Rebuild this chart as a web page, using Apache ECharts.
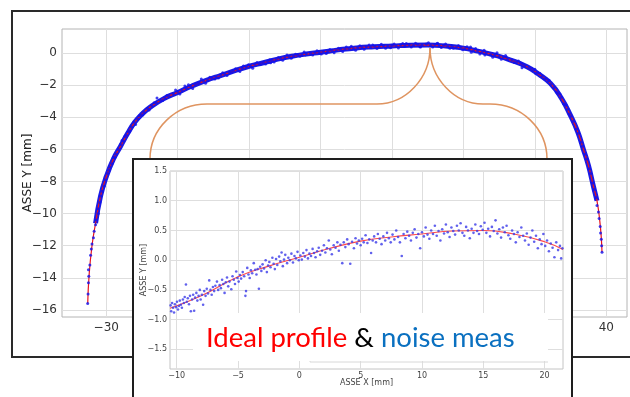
<!DOCTYPE html>
<html><head><meta charset="utf-8">
<script src="https://cdn.jsdelivr.net/npm/echarts@6/dist/echarts.min.js"></script>
<style>html,body{margin:0;padding:0;background:#fff}#c{width:630px;height:397px}</style>
</head><body><div id="c"></div>
<script>
// ---- tick values
const mainXTicks = [-30, -20, -10, 0, 10, 20, 30, 40];
const mainYTicks = [0, -2, -4, -6, -8, -10, -12, -14, -16];
const insetXTicks = [-10, -5, 0, 5, 10, 15, 20];
const insetYTicks = [1.5, 1.0, 0.5, 0.0, -0.5, -1.0, -1.5];
// ---- main chart: ideal profile (x mm, y mm)
const mainProfile = [[-32.6,-15.6],[-32.4,-13.8],[-32.0,-12.0],[-31.5,-10.6],[-30.8,-8.9],[-30.0,-7.7],[-29.0,-6.6],[-28.0,-5.8],[-27.0,-5.0],[-26.0,-4.3],[-25.0,-3.8],[-23.8,-3.35],[-22.0,-2.85],[-20.0,-2.45],[-18.0,-2.05],[-16.0,-1.7],[-14.0,-1.4],[-12.0,-1.1],[-10.0,-0.82],[-8.0,-0.6],[-6.0,-0.38],[-4.0,-0.2],[-2.0,-0.06],[0,0.05],[2.5,0.2],[5,0.32],[7.5,0.39],[10,0.44],[12.5,0.49],[15,0.5],[17.5,0.44],[20,0.31],[22,0.12],[24.3,-0.12],[26.5,-0.42],[28.9,-0.85],[30.5,-1.3],[32.2,-1.9],[33.7,-2.8],[35.0,-3.9],[36.0,-4.9],[36.8,-6.0],[37.5,-7.0],[38.2,-8.3],[38.7,-9.2],[39.1,-10.5],[39.3,-11.5],[39.4,-12.4]];
// ---- main chart: noisy measurement points
const mainNoise = [[-32.6,-15.6],[-32.55,-15.0],[-32.5,-14.3],[-32.45,-13.9],[-32.5,-13.5],[-32.3,-13.2],[-32.2,-12.6],[-32.1,-12.2],[-32.0,-11.9],[-31.8,-11.5],[-31.7,-11.1],[-31.5,-10.7],[-31.4,-10.4],[-31.1,-10.0],[-31.2,-9.7],[-30.9,-9.3],[-30.8,-8.9],[-30.6,-8.6],[-30.3,-8.3],[-30.1,-7.9],[-29.8,-7.5],[-29.6,-7.3],[-29.2,-6.9],[-29.0,-6.5],[-28.6,-6.3],[-28.3,-6.0],[-28.0,-5.7],[-27.6,-5.5],[-27.2,-5.1],[-26.9,-4.9],[-26.5,-4.6],[-26.1,-4.3],[-25.6,-4.1],[-25.2,-3.85],[-24.7,-3.7],[-24.2,-3.45],[-23.6,-3.3],[-23.0,-3.1],[-22.4,-2.95],[-21.8,-2.8],[-21.2,-2.7],[-20.6,-2.55],[-20.0,-2.4],[-19.4,-2.35],[-18.8,-2.2],[-18.2,-2.05],[-17.6,-1.95],[-17.0,-1.85],[-16.4,-1.72],[-15.8,-1.7],[-15.2,-1.55],[-14.6,-1.5],[-14.0,-1.35],[-13.4,-1.3],[-12.8,-1.2],[-12.2,-1.1],[-11.6,-1.05],[-11.0,-0.95],[-10.4,-0.85],[-9.8,-0.82],[-9.2,-0.7],[-8.6,-0.68],[-8.0,-0.58],[-7.4,-0.52],[-6.8,-0.45],[-6.2,-0.42],[-5.6,-0.32],[-5.0,-0.3],[-4.4,-0.22],[-3.8,-0.2],[-3.2,-0.12],[-2.6,-0.1],[-2.0,-0.04],[-1.4,-0.02],[-0.8,0.04],[-0.2,0.02],[0.4,0.1],[1.0,0.1],[1.6,0.17],[2.2,0.15],[2.8,0.24],[3.4,0.22],[4.0,0.3],[4.6,0.27],[5.2,0.35],[5.8,0.33],[6.4,0.4],[7.0,0.35],[7.6,0.42],[8.2,0.38],[8.8,0.46],[9.4,0.41],[10.0,0.48],[10.6,0.42],[11.2,0.52],[11.8,0.46],[12.4,0.53],[13.0,0.47],[13.6,0.55],[14.2,0.48],[14.8,0.56],[15.4,0.47],[16.0,0.53],[16.6,0.45],[17.2,0.5],[17.8,0.4],[18.4,0.43],[19.0,0.33],[19.6,0.37],[20.2,0.26],[20.8,0.25],[21.4,0.15],[22.0,0.16],[22.6,0.04],[23.2,0.02],[23.8,-0.1],[24.4,-0.1],[25.0,-0.24],[25.6,-0.25],[26.2,-0.4],[26.8,-0.42],[27.4,-0.58],[28.0,-0.62],[28.6,-0.8],[29.2,-0.88],[29.8,-1.08],[30.4,-1.22],[31.0,-1.45],[31.6,-1.6],[32.2,-1.95],[32.7,-2.15],[33.2,-2.5],[33.7,-2.75],[34.2,-3.2],[34.6,-3.5],[35.0,-3.95],[35.4,-4.25],[35.8,-4.75],[36.1,-5.0],[36.4,-5.55],[36.7,-5.8],[37.0,-6.3],[37.3,-6.6],[37.6,-7.2],[37.8,-7.5],[38.1,-8.1],[38.3,-8.5],[38.6,-9.0],[38.7,-9.5],[38.9,-9.9],[39.0,-10.3],[39.15,-10.8],[39.2,-11.2],[39.3,-11.6],[39.35,-12.0],[39.4,-12.4],
[-22.9,-2.8],[-19.0,-2.05],[-14.8,-1.62],[-10.8,-0.8],[-7.0,-0.6],[-3.5,-0.08],[0.8,-0.03],[3.6,0.38],[6.8,0.5],[9.8,0.33],[12.0,0.6],[14.0,0.38],[16.4,0.62],[18.6,0.3],[21.0,0.38],[23.0,-0.12],[26.0,-0.25],[28.2,-0.92],[30.0,-1.0],[32.0,-1.7],[34.0,-3.15],[-27.8,-5.45],[-25.9,-4.45],[-24.0,-3.55],[-21.5,-2.65],[-17.3,-1.9],[-12.5,-1.2],[-8.3,-0.66],
[-20.3,-2.3],[-19.7,-2.55],[-18.5,-1.98],[-17.9,-2.2],[-16.7,-1.62],[-16.1,-1.88],[-15.5,-1.5],[-14.3,-1.55],[-13.7,-1.22],[-13.1,-1.4],[-11.9,-0.98],[-11.3,-1.15],[-10.1,-0.72],[-9.5,-0.95],[-8.9,-0.58],[-7.7,-0.68],[-7.1,-0.42],[-6.5,-0.55],[-5.9,-0.28],[-5.3,-0.45],[-4.7,-0.12],[-4.1,-0.32],[-2.9,-0.2],[-2.3,0.06],[-1.1,-0.12],[-0.5,0.15],[0.1,-0.06],[1.3,0.22],[1.9,0.02],[2.5,0.3],[3.1,0.1],[4.3,0.42],[4.9,0.18],[5.5,0.45],[6.1,0.24],[7.3,0.5],[7.9,0.28],[8.5,0.55],[9.1,0.3],[10.3,0.56],[10.9,0.32],[11.5,0.6],[12.7,0.38],[13.3,0.62],[13.9,0.4],[15.1,0.64],[15.7,0.38],[16.3,0.6],[16.9,0.35],[17.5,0.56],[18.1,0.3],[19.3,0.47],[19.9,0.2],[20.5,0.4],[21.1,0.05],[21.7,0.28],[22.3,-0.05],[22.9,0.18],[24.1,-0.26],[24.7,0.02],[25.3,-0.38],[25.9,-0.15],[27.1,-0.58],[27.7,-0.5],[28.3,-0.7],[29.5,-0.98],[30.1,-1.25],[30.7,-1.25],[31.3,-1.6],[31.9,-1.75],[33.0,-2.42],[33.5,-2.55],[34.4,-3.25],[34.8,-3.8],
[-29.5,-7.1],[-28.8,-6.5],[-27.4,-5.2],[-26.7,-4.85],[-25.4,-3.9],[-24.9,-3.85],[-23.3,-3.1],[-22.1,-2.95]];
// ---- inset: ideal profile zoom
const insetProfile = [[-10.55,-0.81],[-8,-0.6],[-5,-0.28],[-2.5,-0.1],[0,0.05],[2.5,0.2],[5,0.32],[7.5,0.39],[10,0.44],[12.5,0.49],[15,0.5],[17.5,0.44],[20,0.31],[21.5,0.18]];
// ---- inset: noisy measurement points
const insetNoise = [[-10.5,-0.76],[-10.45,-0.86],[-10.38,-0.72],[-10.3,-0.8],[-10.22,-0.88],[-10.15,-0.74],[-10.05,-0.79],[-9.98,-0.7],[-9.9,-0.83],[-9.82,-0.77],[-9.75,-0.68],[-9.66,-0.75],[-9.58,-0.8],[-9.5,-0.66],[-9.42,-0.72],[-9.35,-0.62],[-9.25,-0.41],[-9.18,-0.7],[-9.1,-0.64],[-9.0,-0.74],[-8.92,-0.6],[-8.85,-0.86],[-8.75,-0.66],[-8.66,-0.58],[-8.58,-0.85],[-8.5,-0.63],[-8.4,-0.55],[-8.32,-0.68],[-8.22,-0.6],[-8.12,-0.5],[-8.05,-0.66],[-7.95,-0.58],[-7.85,-0.75],[-7.76,-0.52],[-7.65,-0.6],[-7.55,-0.48],[-7.45,-0.56],[-7.35,-0.34],[-7.25,-0.5],[-7.15,-0.58],[-7.05,-0.45],[-6.95,-0.52],[-6.85,-0.43],[-6.72,-0.36],[-6.62,-0.5],[-6.5,-0.42],[-6.4,-0.47],[-6.3,-0.33],[-6.2,-0.4],[-6.1,-0.55],[-6.0,-0.37],[-5.9,-0.29],[-5.8,-0.44],[-5.7,-0.36],[-5.55,-0.49],[-5.45,-0.27],[-5.35,-0.33],[-5.25,-0.4],[-5.15,-0.19],[-5.05,-0.3],[-4.95,-0.36],[-4.85,-0.25],[-4.75,-0.31],[-4.62,-0.2],[-4.5,-0.27],[-4.4,-0.6],[-4.35,-0.52],[-4.25,-0.13],[-4.15,-0.24],[-4.05,-0.3],[-3.95,-0.17],[-3.85,-0.22],[-3.72,-0.05],[-3.6,-0.16],[-3.5,-0.24],[-3.4,-0.15],[-3.3,-0.48],[-3.2,-0.11],[-3.1,-0.18],[-3.0,-0.07],[-2.88,-0.14],[-2.75,0.0],[-2.65,-0.2],[-2.55,-0.09],[-2.45,-0.03],[-2.35,-0.12],[-2.2,0.04],[-2.1,-0.06],[-2.0,-0.15],[-1.9,0.02],[-1.8,-0.08],[-1.65,0.06],[-1.55,-0.02],[-1.45,0.13],[-1.35,-0.1],[-1.25,0.01],[-1.15,0.09],[-1.0,-0.05],[-0.9,0.04],[-0.78,0.0],[-0.65,0.11],[-0.52,-0.04],[-0.4,0.07],[-0.28,0.03],[-0.15,0.14],[-0.05,0.0],[0.08,0.08],[0.2,0.01],[0.32,0.12],[0.45,0.06],[0.58,0.17],[0.7,0.03],[0.82,0.11],[0.95,0.07],[1.08,0.19],[1.2,0.12],[1.32,0.05],[1.45,0.15],[1.58,0.21],[1.7,0.09],[1.85,0.16],[2.0,0.25],[2.12,0.13],[2.25,0.2],[2.4,0.33],[2.52,0.18],[2.65,0.1],[2.8,0.25],[2.95,0.21],[3.1,0.3],[3.22,0.16],[3.35,0.26],[3.5,-0.05],[3.62,0.3],[3.75,0.22],[3.9,0.35],[4.02,0.27],[4.15,-0.06],[4.3,0.31],[4.45,0.2],[4.58,0.37],[4.7,0.28],[4.85,0.33],[5.0,0.25],[5.12,0.36],[5.25,0.3],[5.4,0.42],[5.55,0.29],[5.7,0.35],[5.85,0.12],[5.98,0.33],[6.1,0.4],[6.25,0.3],[6.4,0.44],[6.55,0.36],[6.7,0.27],[6.85,0.4],[7.0,0.33],[7.15,0.46],[7.3,0.37],[7.45,0.3],[7.6,0.43],[7.75,0.35],[7.9,0.5],[8.05,0.39],[8.2,0.3],[8.35,0.07],[8.5,0.44],[8.65,0.37],[8.8,0.48],[8.95,0.41],[9.1,0.33],[9.25,0.46],[9.4,0.52],[9.55,0.38],[9.7,0.44],[9.85,0.2],[10.0,0.47],[10.15,0.4],[10.3,0.55],[10.45,0.43],[10.6,0.36],[10.75,0.5],[10.9,0.44],[11.05,0.58],[11.2,0.41],[11.35,0.49],[11.5,0.33],[11.65,0.52],[11.8,0.45],[11.95,0.6],[12.1,0.47],[12.25,0.39],[12.4,0.55],[12.55,0.49],[12.7,0.43],[12.85,0.58],[13.0,0.5],[13.15,0.62],[13.3,0.46],[13.45,0.41],[13.6,0.56],[13.75,0.5],[13.9,0.37],[14.05,0.53],[14.2,0.46],[14.35,0.6],[14.5,0.49],[14.65,0.44],[14.8,0.57],[14.95,0.51],[15.1,0.63],[15.25,0.46],[15.4,0.53],[15.55,0.4],[15.7,0.56],[15.85,0.49],[16.0,0.67],[16.15,0.45],[16.3,0.52],[16.45,0.38],[16.6,0.55],[16.75,0.47],[16.9,0.58],[17.05,0.42],[17.2,0.36],[17.35,0.5],[17.5,0.44],[17.65,0.3],[17.8,0.47],[17.95,0.39],[18.1,0.55],[18.25,0.41],[18.4,0.33],[18.55,0.45],[18.7,0.26],[18.85,0.38],[19.0,0.5],[19.15,0.31],[19.3,0.41],[19.45,0.2],[19.6,0.35],[19.75,0.27],[19.9,0.44],[20.05,0.24],[20.2,0.33],[20.35,0.15],[20.5,0.28],[20.65,0.21],[20.8,0.05],[20.95,0.3],[21.1,0.17],[21.25,0.24],[21.35,0.03],[21.45,0.2]];
// ---- text
const mainYName = 'ASSE Y [mm]';
const insetXName = 'ASSE X [mm]';
const insetYName = 'ASSE Y [mm]';
const captionParts = ['Ideal profile', ' & ', 'noise meas'];

const minus = s => String(s).replace('-', '\u2212');
const bandData = mainProfile.filter(p => p[0] >= -31.6 && p[0] <= 38.8);
const chart = echarts.init(document.getElementById('c'), null, {renderer: 'canvas'});
const gridLine = {show: true, lineStyle: {color: '#dedede', width: 1}};
const FONT = 'DejaVu Sans';
const braceStyle = {fill: null, stroke: '#df9460', lineWidth: 1.5};
const bez = (x1,y1,c1x,c1y,c2x,c2y,x2,y2) => ({type: 'bezierCurve', z: 3, silent: true,
  shape: {x1, y1, cpx1: c1x, cpy1: c1y, cpx2: c2x, cpy2: c2y, x2, y2}, style: braceStyle});
const seg = (x1,y1,x2,y2) => ({type: 'line', z: 3, silent: true, shape: {x1, y1, x2, y2}, style: braceStyle});
const axisBase = (ticks, fontSize, color, margin, fmt) => ({
  type: 'value', axisLine: {show: false},
  axisTick: {show: false, customValues: ticks},
  splitLine: gridLine,
  axisLabel: {customValues: ticks, margin, color, fontFamily: FONT, fontSize, formatter: fmt}
});

chart.setOption({
  animation: false,
  backgroundColor: '#fff',
  grid: [
    {left: 62, top: 29, width: 565, height: 288, show: true, borderColor: '#b4b4b4', borderWidth: 1, z: 0},
    {left: 170, top: 171, width: 393, height: 198, show: true, borderColor: '#c4c4c4', borderWidth: 1, backgroundColor: '#fff', z: 4}
  ],
  xAxis: [
    Object.assign(axisBase(mainXTicks, 12, '#333', 5, minus), {gridIndex: 0, min: -36.2, max: 42.9}),
    Object.assign(axisBase(insetXTicks, 8, '#444', 3, minus), {gridIndex: 1, min: -10.55, max: 21.5, z: 4,
      name: insetXName, nameLocation: 'middle', nameGap: 10, nameMoveOverlap: false,
      nameTextStyle: {color: '#444', fontFamily: FONT, fontSize: 8, verticalAlign: 'top'}})
  ],
  yAxis: [
    Object.assign(axisBase(mainYTicks, 12, '#333', 5, minus), {gridIndex: 0, min: -16.44, max: 1.5,
      name: mainYName, nameLocation: 'middle', nameGap: 28, nameMoveOverlap: false,
      nameTextStyle: {color: '#222', fontFamily: FONT, fontSize: 12}}),
    Object.assign(axisBase(insetYTicks, 8, '#444', 3, v => minus(Number(v).toFixed(1))), {gridIndex: 1, min: -1.83, max: 1.5, z: 4,
      name: insetYName, nameLocation: 'middle', nameGap: 22, nameMoveOverlap: false,
      nameTextStyle: {color: '#444', fontFamily: FONT, fontSize: 8}})
  ],
  series: [
    {type: 'line', name: 'band', xAxisIndex: 0, yAxisIndex: 0, data: bandData, smooth: true, showSymbol: false,
     lineStyle: {color: '#1a1ae6', width: 5}, z: 2},
    {type: 'line', name: 'ideal', xAxisIndex: 0, yAxisIndex: 0, data: mainProfile, smooth: true, showSymbol: false,
     lineStyle: {color: '#e8141e', width: 1.2}, z: 2},
    {type: 'scatter', name: 'meas', xAxisIndex: 0, yAxisIndex: 0, data: mainNoise, symbolSize: 3,
     itemStyle: {color: '#1010ee'}, z: 2},
    {type: 'scatter', name: 'meas inset', xAxisIndex: 1, yAxisIndex: 1, data: insetNoise, symbolSize: 2.6,
     itemStyle: {color: '#3a3ae8'}, z: 5},
    {type: 'line', name: 'ideal inset', xAxisIndex: 1, yAxisIndex: 1, data: insetProfile, smooth: true, showSymbol: false,
     lineStyle: {color: '#ff4a4a', width: 1.1}, z: 5}
  ],
  graphic: [
    {type: 'rect', z: 1, silent: true, shape: {x: 12, y: 11, width: 640, height: 346}, style: {fill: null, stroke: '#2a2a2a', lineWidth: 2}},
    bez(430, 48, 430, 78, 454, 104, 483, 104),
    seg(483, 104, 490, 104),
    bez(490, 104, 521.5, 104, 547, 128.6, 547, 159),
    bez(430, 48, 430, 78, 406, 104, 377, 104),
    seg(377, 104, 207, 104),
    bez(207, 104, 175.5, 104, 150, 128.6, 150, 159),
    {type: 'rect', z: 3, silent: true, shape: {x: 133, y: 159, width: 439, height: 260}, style: {fill: '#fff', stroke: '#1e1e1e', lineWidth: 2}},
    {type: 'polyline', z: 6, silent: true, shape: {points: [[310, 355], [310, 362], [548, 362]]}, style: {fill: null, stroke: '#d8d8d8', lineWidth: 1}},
    {type: 'rect', z: 6, silent: true, shape: {x: 193, y: 313, width: 355, height: 48}, style: {fill: '#fff'}},
    {type: 'text', z: 7, silent: true, x: 206, y: 338, style: {
      text: '{r|' + captionParts[0] + '}{k|' + captionParts[1] + '}{b|' + captionParts[2] + '}',
      verticalAlign: 'middle', font: '27.5px Lato',
      rich: {r: {fill: '#f00', fontSize: 27.5, fontFamily: 'Lato'}, k: {fill: '#000', fontSize: 27.5, fontFamily: 'Lato'}, b: {fill: '#0a70c0', fontSize: 27.5, fontFamily: 'Lato'}}
    }}
  ]
});
</script></body></html>
